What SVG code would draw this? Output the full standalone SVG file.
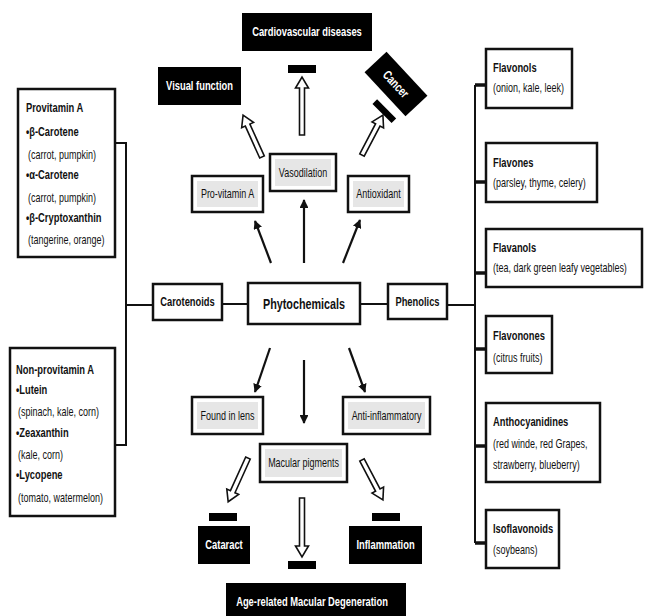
<svg xmlns="http://www.w3.org/2000/svg" width="649" height="616" viewBox="0 0 649 616">
<defs>
<style>
.t{font-family:"Liberation Sans Narrow","Liberation Sans",Arial,sans-serif;font-size:12.5px;fill:#111;transform-box:fill-box;transform-origin:left center;transform:scaleX(0.72);}
.b{font-weight:bold;font-size:13px;}
.w{fill:#fff;font-weight:bold;font-size:13px;}
.c{text-anchor:middle;transform-origin:center center;}
.box{fill:#fff;stroke:#111;stroke-width:2.5;}
.inner{fill:#e6e6e6;stroke:none;}
.dark{fill:#000;stroke:none;}
.ln{stroke:#111;stroke-width:2;fill:none;}
.stub{stroke:#111;stroke-width:3.5;fill:none;}
.arr{stroke:#111;stroke-width:2.2;fill:none;marker-end:url(#ah);}
.hol{fill:#fff;stroke:#111;stroke-width:1.6;stroke-linejoin:miter;}
</style>
<marker id="ah" viewBox="0 0 10 10" refX="9" refY="5" markerWidth="4" markerHeight="4" orient="auto" markerUnits="strokeWidth">
<path d="M0,0 L10,5 L0,10 Z" fill="#111"/>
</marker>
</defs>
<rect width="649" height="616" fill="#fff"/>

<g id="connectors">
<polyline class="ln" points="115,143 126,143 126,445 115,445"/>
<line class="ln" x1="126" y1="305" x2="153" y2="305"/>
<line class="ln" x1="222" y1="304" x2="248" y2="304"/>
<line class="ln" x1="360" y1="304" x2="388" y2="304"/>
<line class="ln" x1="447" y1="305" x2="475" y2="305"/>
<line class="ln" x1="475" y1="85" x2="475" y2="543"/>
<line class="stub" x1="475" y1="85" x2="486" y2="85"/>
<line class="stub" x1="475" y1="182" x2="486" y2="182"/>
<line class="stub" x1="475" y1="273" x2="486" y2="273"/>
<line class="stub" x1="475" y1="349" x2="486" y2="349"/>
<line class="stub" x1="475" y1="446" x2="486" y2="446"/>
<line class="stub" x1="475" y1="543" x2="486" y2="543"/>
<line class="arr" x1="271" y1="263" x2="255" y2="221"/>
<line class="arr" x1="304" y1="263" x2="304" y2="200"/>
<line class="arr" x1="343" y1="263" x2="360" y2="220"/>
<line class="arr" x1="270" y1="348" x2="255" y2="392"/>
<line class="arr" x1="304" y1="360" x2="304" y2="423"/>
<line class="arr" x1="349" y1="348" x2="365" y2="392"/>
<g transform="translate(262,157) rotate(-24.3)"><path class="hol" d="M-2.5,0 V-35 H-6.5 L0,-46 L6.5,-35 H2.5 V0 Z"/></g>
<g transform="translate(302,135) rotate(0)"><path class="hol" d="M-2.5,0 V-47 H-6.5 L0,-58 L6.5,-47 H2.5 V0 Z"/></g>
<g transform="translate(362,155) rotate(27.7)"><path class="hol" d="M-2.5,0 V-34 H-6.5 L0,-45 L6.5,-34 H2.5 V0 Z"/></g>
<g transform="translate(248,458) rotate(204.4)"><path class="hol" d="M-2.5,0 V-37 H-6.5 L0,-48 L6.5,-37 H2.5 V0 Z"/></g>
<g transform="translate(302,498) rotate(180)"><path class="hol" d="M-2.5,0 V-48 H-6.5 L0,-59 L6.5,-48 H2.5 V0 Z"/></g>
<g transform="translate(362,460) rotate(152.3)"><path class="hol" d="M-2.5,0 V-34 H-6.5 L0,-45 L6.5,-34 H2.5 V0 Z"/></g>
<rect class="dark" x="288" y="65" width="28" height="8"/>
<rect class="dark" x="371" y="108" width="27" height="6.5" transform="rotate(45 384.5 111)"/>
<rect class="dark" x="209" y="513" width="28" height="8"/>
<rect class="dark" x="372" y="513" width="28" height="8"/>
<rect class="dark" x="288" y="561" width="28" height="8"/>
</g>

<g id="cardiovascular"><rect class="dark" x="242" y="13" width="130" height="38"/><text class="t w c" x="307" y="36.5">Cardiovascular diseases</text></g>
<g id="visual"><rect class="dark" x="158" y="67" width="83" height="38"/><text class="t w c" x="199.5" y="90.5">Visual function</text></g>
<g id="cancer" transform="rotate(47 396 84)"><rect class="dark" x="366" y="69" width="60" height="30"/><text class="t w c" x="396" y="88.5">Cancer</text></g>

<g id="vasodilation"><rect class="box" x="270" y="154" width="66" height="37"/><rect class="inner" x="275" y="159" width="56" height="27"/><text class="t c" x="303" y="177">Vasodilation</text></g>
<g id="provitaminA"><rect class="box" x="192" y="176" width="71" height="36"/><rect class="inner" x="197" y="181" width="61" height="26"/><text class="t c" x="227.5" y="198.5">Pro-vitamin A</text></g>
<g id="antioxidant"><rect class="box" x="348" y="176" width="61" height="36"/><rect class="inner" x="353" y="181" width="51" height="26"/><text class="t c" x="378.5" y="198.5">Antioxidant</text></g>

<g id="phytochemicals"><rect class="box" x="248" y="283" width="112" height="41"/><text class="t b c" x="304" y="309" style="font-size:15px">Phytochemicals</text></g>
<g id="carotenoids"><rect class="box" x="153" y="284" width="69" height="36"/><text class="t b c" x="187.5" y="306.5">Carotenoids</text></g>
<g id="phenolics"><rect class="box" x="388" y="284" width="59" height="35"/><text class="t b c" x="417.5" y="306">Phenolics</text></g>

<g id="foundinlens"><rect class="box" x="192" y="397" width="71" height="37"/><rect class="inner" x="197" y="402" width="61" height="27"/><text class="t c" x="227.5" y="420">Found in lens</text></g>
<g id="antiinflammatory"><rect class="box" x="343" y="397" width="87" height="37"/><rect class="inner" x="348" y="402" width="77" height="27"/><text class="t c" x="386.5" y="420">Anti-inflammatory</text></g>
<g id="macular"><rect class="box" x="260" y="444" width="87" height="38"/><rect class="inner" x="265" y="449" width="77" height="28"/><text class="t c" x="303.5" y="467.5">Macular pigments</text></g>

<g id="cataract"><rect class="dark" x="198" y="526" width="52" height="38"/><text class="t w c" x="224" y="549.5">Cataract</text></g>
<g id="inflammation"><rect class="dark" x="349" y="526" width="73" height="38"/><text class="t w c" x="385.5" y="549.5">Inflammation</text></g>
<g id="amd"><rect class="dark" x="226" y="583" width="180" height="36"/><text class="t w c" x="312" y="606.5">Age-related Macular Degeneration</text></g>

<g id="provitaminbox"><rect class="box" x="18" y="89" width="97" height="168"/>
<text class="t b" x="26" y="112.5">Provitamin A</text>
<text class="t b" x="26" y="136.5">•β-Carotene</text>
<text class="t" x="28" y="159.5">(carrot, pumpkin)</text>
<text class="t b" x="26" y="179.5">•α-Carotene</text>
<text class="t" x="28" y="202.5">(carrot, pumpkin)</text>
<text class="t b" x="26" y="222.5">•β-Cryptoxanthin</text>
<text class="t" x="28" y="244.5">(tangerine, orange)</text>
</g>
<g id="nonprovitaminbox"><rect class="box" x="10" y="348" width="105" height="168"/>
<text class="t b" x="16" y="374.5">Non-provitamin A</text>
<text class="t b" x="16" y="394.5">•Lutein</text>
<text class="t" x="18" y="416.5">(spinach, kale, corn)</text>
<text class="t b" x="16" y="437.5">•Zeaxanthin</text>
<text class="t" x="18" y="459.5">(kale, corn)</text>
<text class="t b" x="16" y="479.5">•Lycopene</text>
<text class="t" x="18" y="502.5">(tomato, watermelon)</text>
</g>

<g id="flavonols"><rect class="box" x="486" y="49" width="86" height="59"/><text class="t b" x="493" y="72.5">Flavonols</text><text class="t" x="493" y="92.5">(onion, kale, leek)</text></g>
<g id="flavones"><rect class="box" x="486" y="143" width="111" height="59"/><text class="t b" x="493" y="167.5">Flavones</text><text class="t" x="493" y="187.5">(parsley, thyme, celery)</text></g>
<g id="flavanols"><rect class="box" x="486" y="229" width="156" height="58"/><text class="t b" x="493" y="252.5">Flavanols</text><text class="t" x="493" y="272.5">(tea, dark green leafy vegetables)</text></g>
<g id="flavonones"><rect class="box" x="486" y="316" width="66" height="57"/><text class="t b" x="493" y="340.5">Flavonones</text><text class="t" x="493" y="362.5">(citrus fruits)</text></g>
<g id="anthocyanidines"><rect class="box" x="486" y="403" width="114" height="79"/><text class="t b" x="493" y="426.5">Anthocyanidines</text><text class="t" x="493" y="448.5">(red winde, red Grapes,</text><text class="t" x="493" y="469.5">strawberry, blueberry)</text></g>
<g id="isoflavonoids"><rect class="box" x="486" y="510" width="73" height="58"/><text class="t b" x="493" y="533.5">Isoflavonoids</text><text class="t" x="493" y="554.5">(soybeans)</text></g>
</svg>
